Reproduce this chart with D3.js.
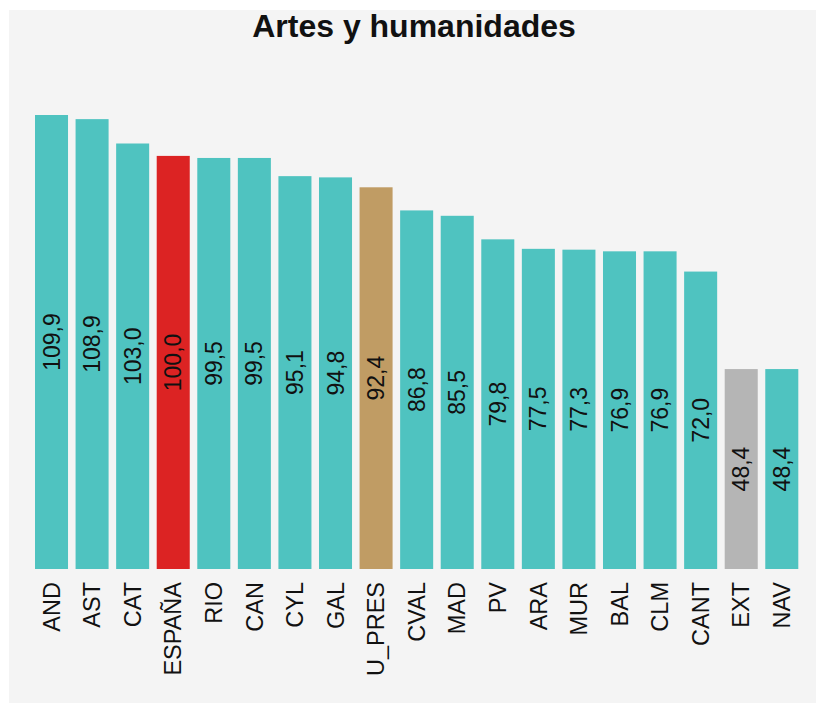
<!DOCTYPE html>
<html>
<head>
<meta charset="utf-8">
<script src="https://cdn.jsdelivr.net/npm/d3@7"></script>
<style>
  html, body { margin: 0; padding: 0; background: #ffffff; }
  svg { display: block; font-family: "Liberation Sans", Arial, sans-serif; }
</style>
</head>
<body>
<svg width="816" height="703"></svg>
<script>
// the data
var categories = ["AND", "AST", "CAT", "ESPAÑA", "RIO", "CAN", "CYL", "GAL", "U_PRES", "CVAL",
  "MAD", "PV", "ARA", "MUR", "BAL", "CLM", "CANT", "EXT", "NAV"];
var values = [109.9, 108.9, 103.0, 100.0, 99.5, 99.5, 95.1, 94.8, 92.4, 86.8,
  85.5, 79.8, 77.5, 77.3, 76.9, 76.9, 72.0, 48.4, 48.4];
var highlights = { "ESPAÑA": "#dc2323", "U_PRES": "#c09c64", "EXT": "#b5b5b5" };
var baseColor = "#4fc3c0";
var title = "Artes y humanidades";

var svg = d3.select("svg");

// panel background
svg.append("rect")
  .attr("x", 9).attr("y", 10)
  .attr("width", 807).attr("height", 693)
  .attr("fill", "#f4f4f4");

svg.append("text")
  .attr("x", 414).attr("y", 37)
  .attr("text-anchor", "middle")
  .style("font-size", "32px")
  .style("font-weight", "bold")
  .attr("fill", "#111")
  .text(title);

var data = categories.map(function(c, i) { return { cat: c, value: values[i] }; });

var x = d3.scaleBand()
  .domain(categories)
  .range([35, 798.3])
  .paddingInner(0.186)
  .paddingOuter(0);

var y = d3.scaleLinear()
  .domain([0, d3.max(values)])
  .range([569, 115]);

var bars = svg.append("g").attr("class", "bars")
  .selectAll("rect")
  .data(data)
  .enter().append("rect")
  .attr("x", function(d) { return x(d.cat); })
  .attr("y", function(d) { return y(d.value); })
  .attr("width", x.bandwidth())
  .attr("height", function(d) { return y(0) - y(d.value); })
  .attr("fill", function(d) { return highlights[d.cat] || baseColor; });

// value labels, rotated, centred in each bar
svg.append("g").attr("class", "values")
  .selectAll("text")
  .data(data)
  .enter().append("text")
  .attr("transform", function(d) {
    var cx = x(d.cat) + x.bandwidth() / 2;
    var cy = (y(d.value) + y(0)) / 2;
    return "translate(" + cx + "," + cy + ") rotate(-90)";
  })
  .attr("text-anchor", "middle")
  .attr("dy", "0.35em")
  .style("font-size", "23px")
  .attr("fill", "#111")
  .text(function(d) { return d.value.toFixed(1).replace(".", ","); });

// category axis
var xAxis = svg.append("g")
  .attr("transform", "translate(0," + y(0) + ")")
  .call(d3.axisBottom(x).tickSize(0).tickPadding(0));
xAxis.select(".domain").remove();
xAxis.selectAll("text")
  .attr("transform", "translate(0,13) rotate(-90)")
  .attr("x", 0).attr("y", 0)
  .attr("dy", "0.35em")
  .attr("text-anchor", "end")
  .style("font-size", "23.5px")
  .style("font-family", "'Liberation Sans', Arial, sans-serif")
  .attr("fill", "#111");
</script>
</body>
</html>
